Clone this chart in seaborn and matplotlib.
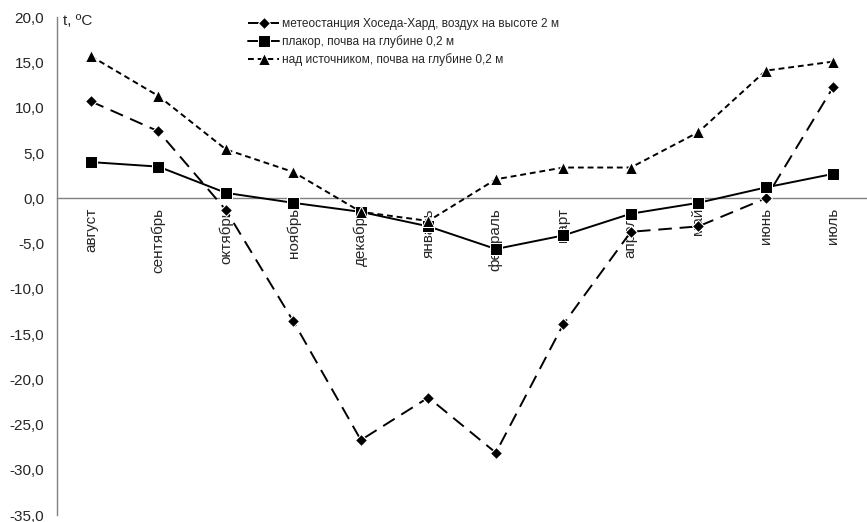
import numpy as np
import pandas as pd
import seaborn as sns
import matplotlib.pyplot as plt
from matplotlib.ticker import FixedLocator, FuncFormatter

# Месяцы и температуры
months = ['август', 'сентябрь', 'октябрь', 'ноябрь', 'декабрь', 'январь',
          'февраль', 'март', 'апрель', 'май', 'июнь', 'июль']
air_2m = [10.7, 7.4, -1.3, -13.6, -26.7, -22.0, -28.1, -13.9, -3.7, -3.1, 0.0, 12.3]
plakor_02 = [4.0, 3.5, 0.6, -0.5, -1.5, -3.1, -5.6, -4.1, -1.7, -0.5, 1.2, 2.7]
source_02 = [15.7, 11.3, 5.4, 2.9, -1.5, -2.5, 2.1, 3.4, 3.4, 7.3, 14.1, 15.1]

labels = ['метеостанция Хоседа-Хард, воздух на высоте 2 м',
          'плакор, почва на глубине 0,2 м',
          'над источником, почва на глубине 0,2 м']

sns.set_style('white')
plt.rcParams['font.family'] = ['Liberation Sans', 'DejaVu Sans']

fig = plt.figure(figsize=(8.67, 5.22), dpi=100)
ax = fig.add_axes([0.066, 0.013, 0.934, 0.954])

x = np.arange(len(months))
sns.lineplot(x=x, y=air_2m, ax=ax, color='black', marker='D', markersize=6,
             linewidth=1.4, linestyle=(0, (7, 4)), label=labels[0], zorder=3)
sns.lineplot(x=x, y=plakor_02, ax=ax, color='black', marker='s', markersize=8,
             linewidth=1.4, linestyle='-', label=labels[1], zorder=3)
sns.lineplot(x=x, y=source_02, ax=ax, color='black', marker='^', markersize=8,
             linewidth=1.4, linestyle=(0, (3, 2)), label=labels[2], zorder=3)

ax.set_xlim(-0.5, len(months) - 0.5)
ax.set_ylim(-35, 20)
ax.set_yticks(np.arange(-35, 21, 5))
ax.yaxis.set_major_formatter(FuncFormatter(lambda v, p: f'{v:.1f}'.replace('.', ',')))

ax.set_xticks(x)
ax.set_xticklabels(months)
ax.xaxis.set_minor_locator(FixedLocator(np.arange(0.5, len(months) - 0.5, 1)))
ax.tick_params(axis='x', which='major', length=0, pad=7, labelsize=11, labelrotation=90)
for t in ax.get_xticklabels():
    t.set_va('top')
    t.set_ha('center')
ax.tick_params(axis='x', which='minor', length=4, width=1, color='#404040', direction='out')
ax.tick_params(axis='y', length=4, width=1, color='#404040', direction='out', labelsize=11, pad=5.5)

ax.spines['bottom'].set_position(('data', 0))
ax.spines['top'].set_visible(False)
ax.spines['right'].set_visible(False)
for s in ['left', 'bottom']:
    ax.spines[s].set_color('#808080')
    ax.spines[s].set_linewidth(1)

ax.text(0.007, 0.992, 't, ºC', transform=ax.transAxes, fontsize=11, va='center', ha='left')

ax.legend(loc='upper left', bbox_to_anchor=(0.230, 1.008), frameon=False,
          fontsize=8.6, handlelength=2.6, handletextpad=0.2, labelspacing=0.42,
          borderaxespad=0)

fig.savefig('out.png', dpi=100)
